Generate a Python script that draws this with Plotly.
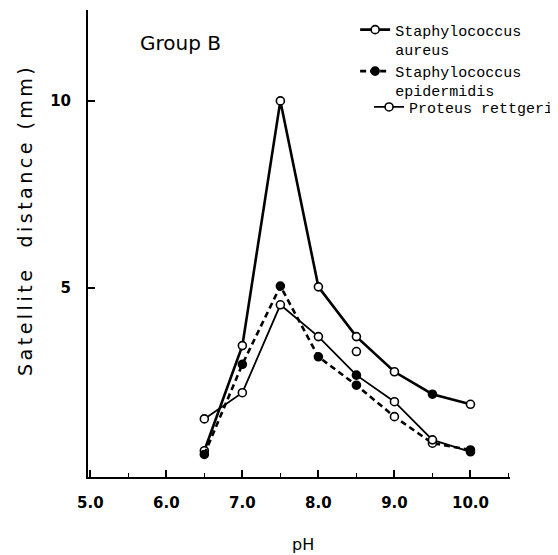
import plotly.graph_objects as go

ph = [6.5, 7.0, 7.5, 8.0, 8.5, 9.0, 9.5, 10.0]
aureus = [0.65, 3.46, 10.0, 5.03, 3.7, 2.76, 2.16, 1.89]
epidermidis = [0.55, 2.96, 5.05, 3.16, 2.4, 1.56, 0.85, 0.67]
proteus = [1.5, 2.2, 4.55, 3.7, 2.67, 1.96, 0.94, 0.62]
stray_ph = [8.5]
stray_val = [3.3]

aureus_fill = ["white", "white", "white", "white", "white", "white", "black", "white"]
epi_fill = ["black", "black", "black", "black", "black", "white", "white", "black"]
proteus_fill = ["white", "white", "white", "white", "black", "white", "white", "black"]

x_tickvals = [5.0, 6.0, 7.0, 8.0, 9.0, 10.0]
x_ticktext = ["5.0", "6.0", "7.0", "8.0", "9.0", "10.0"]
y_tickvals = [5, 10]
y_ticktext = ["5", "10"]

names = ["Staphylococcus<br>aureus", "Staphylococcus<br>epidermidis", "Proteus rettgeri"]

fig = go.Figure()
fig.add_trace(go.Scatter(
    x=ph, y=aureus, name=names[0], mode="lines+markers", legend="legend",
    line=dict(color="black", width=2.6),
    marker=dict(size=8, color=aureus_fill, line=dict(color="black", width=1.6))))
fig.add_trace(go.Scatter(
    x=ph, y=epidermidis, name=names[1], mode="lines+markers", legend="legend2",
    line=dict(color="black", width=2.6, dash="6px,4px"),
    marker=dict(size=8, color=epi_fill, line=dict(color="black", width=1.6))))
fig.add_trace(go.Scatter(
    x=ph, y=proteus, name=names[2], mode="lines+markers", legend="legend3",
    line=dict(color="black", width=1.8),
    marker=dict(size=8, color=proteus_fill, line=dict(color="black", width=1.6))))
fig.add_trace(go.Scatter(
    x=stray_ph, y=stray_val, mode="markers", showlegend=False,
    marker=dict(size=8, color="white", line=dict(color="black", width=1.6))))

legend_font = dict(family="Liberation Mono", size=15, color="black")
common = dict(xanchor="left", yanchor="top", font=legend_font,
              bgcolor="rgba(0,0,0,0)", valign="top", itemwidth=30)

# page body has an 8px margin, so the figure is sized 550x547
fig.update_layout(
    width=550, height=547,
    margin=dict(l=80, r=48, t=2, b=78, autoexpand=False),
    paper_bgcolor="white", plot_bgcolor="white",
    font=dict(family="DejaVu Sans", color="black"),
    showlegend=True,
    legend=dict(x=0.633, y=0.9927, **common),
    legend2=dict(x=0.633, y=0.904, **common),
    legend3=dict(x=0.666, y=0.8272, **common),
    xaxis=dict(range=[4.97, 10.52], showgrid=False, zeroline=False,
               showline=True, linecolor="black", linewidth=2,
               tickmode="array", tickvals=x_tickvals, ticktext=x_ticktext,
               ticks="inside", ticklen=7, tickwidth=1.5, tickcolor="black",
               minor=dict(dtick=0.5, tick0=5.0, ticks="inside", ticklen=4,
                          tickwidth=1.2, tickcolor="black", showgrid=False),
               tickfont=dict(family="DejaVu Sans", size=15, weight="bold"),
               ticklabelstandoff=11),
    yaxis=dict(range=[-0.053, 12.43], showgrid=False, zeroline=False,
               showline=True, linecolor="black", linewidth=2,
               tickmode="array", tickvals=y_tickvals, ticktext=y_ticktext,
               ticks="inside", ticklen=7, tickwidth=1.5, tickcolor="black",
               tickfont=dict(family="DejaVu Sans", size=15, weight="bold"),
               ticklabelstandoff=12),
    annotations=[
        dict(text="Group B", xref="paper", yref="paper",
             x=(180 - 88) / 422, y=1 - (43 - 10) / 467,
             xanchor="center", yanchor="middle",
             showarrow=False, font=dict(size=20)),
        dict(text='<span style="letter-spacing:3.5px">Satellite  distance (mm)</span>',
             textangle=-90, showarrow=False,
             xref="paper", yref="paper", x=(25 - 88) / 422, y=1 - (220 - 10) / 467,
             xanchor="center", yanchor="middle", font=dict(size=19)),
        dict(text="pH", showarrow=False, xref="paper", yref="paper",
             x=(303 - 88) / 422, y=-(544 - 477) / 467, xanchor="center",
             yanchor="middle", font=dict(size=16)),
    ],
)

fig.write_html("out.html")
